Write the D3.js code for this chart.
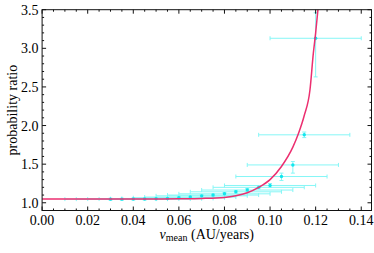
<!DOCTYPE html>
<html>
<head>
<meta charset="utf-8">
<script src="https://cdn.jsdelivr.net/npm/d3@7"></script>
<style>
  body { margin: 0; background: #fff; }
  text { font-family: "Liberation Serif", "DejaVu Serif", serif; }
</style>
</head>
<body>
<svg id="chart" width="374" height="253"></svg>
<script>
// measured points (v_mean, ratio) with errors
var vMean   = [0.030, 0.035, 0.040, 0.045, 0.050, 0.055, 0.060, 0.065, 0.070, 0.075,
               0.080, 0.085, 0.090, 0.095, 0.100, 0.105, 0.110, 0.115, 0.120];
var ratio   = [1.047, 1.047, 1.048, 1.048, 1.052, 1.056, 1.065, 1.074, 1.090, 1.100,
               1.116, 1.142, 1.165, 1.200, 1.224, 1.340, 1.490, 1.880, 3.130];
var vErr    = [0.02, 0.02, 0.02, 0.02, 0.02, 0.02, 0.02, 0.02, 0.02, 0.02,
               0.02, 0.02, 0.02, 0.02, 0.02, 0.02, 0.02, 0.02, 0.02];
var errLow  = [0.012, 0.012, 0.012, 0.012, 0.012, 0.012, 0.014, 0.014, 0.015, 0.015,
               0.016, 0.018, 0.02, 0.02, 0.025, 0.052, 0.106, 0.036, 0.50];
var errHigh = [0.012, 0.012, 0.012, 0.012, 0.012, 0.012, 0.014, 0.014, 0.015, 0.015,
               0.016, 0.018, 0.02, 0.02, 0.025, 0.044, 0.044, 0.036, 0.33];

// fitted curve
var fitX = [0, 0.02, 0.04, 0.06, 0.07, 0.08, 0.085, 0.09, 0.095, 0.10, 0.105,
            0.11, 0.1125, 0.115, 0.1175, 0.119, 0.12, 0.121, 0.1215];
var fitY = [1.048, 1.048, 1.049, 1.052, 1.056, 1.068, 1.09, 1.13, 1.20, 1.30, 1.47,
            1.72, 1.90, 2.13, 2.46, 2.94, 3.20, 3.50, 3.65];

var xTicks = [0, 0.02, 0.04, 0.06, 0.08, 0.10, 0.12, 0.14];
var yTicks = [1.0, 1.5, 2.0, 2.5, 3.0, 3.5];

var svg = d3.select("#chart");
var pL = 42.1, pR = 371.5, pT = 9.7, pB = 210.5;

var x = d3.scaleLinear().domain([0, 0.1445]).range([pL, pR]);
var y = d3.scaleLinear().domain([0.9, 3.5]).range([pB, pT]);

svg.append("clipPath").attr("id", "clip")
  .append("rect")
  .attr("x", pL).attr("y", pT)
  .attr("width", pR - pL).attr("height", pB - pT);

var plot = svg.append("g").attr("clip-path", "url(#clip)");

var pts = vMean.map(function (v, i) {
  return {x: v, y: ratio[i], ex: vErr[i], lo: errLow[i], hi: errHigh[i]};
});

var barColor = "#86f6f6", cap = 2;

// error bars with caps
var bars = plot.append("g").attr("stroke", barColor).attr("stroke-width", 1).attr("fill", "none");
pts.forEach(function (p) {
  var yy = y(p.y), x0 = x(p.x - p.ex), x1 = x(p.x + p.ex);
  bars.append("line").attr("x1", x0).attr("x2", x1).attr("y1", yy).attr("y2", yy);
  bars.append("line").attr("x1", x0).attr("x2", x0).attr("y1", yy - cap).attr("y2", yy + cap);
  bars.append("line").attr("x1", x1).attr("x2", x1).attr("y1", yy - cap).attr("y2", yy + cap);
  var xx = x(p.x), y0 = y(p.y - p.lo), y1 = y(p.y + p.hi);
  bars.append("line").attr("x1", xx).attr("x2", xx).attr("y1", y0).attr("y2", y1);
  bars.append("line").attr("x1", xx - cap).attr("x2", xx + cap).attr("y1", y0).attr("y2", y0);
  bars.append("line").attr("x1", xx - cap).attr("x2", xx + cap).attr("y1", y1).attr("y2", y1);
});

plot.append("g").selectAll("circle")
  .data(pts)
  .enter().append("circle")
  .attr("cx", function (p) { return x(p.x); })
  .attr("cy", function (p) { return y(p.y); })
  .attr("r", 1.7)
  .attr("fill", "#12e6ee");

var line = d3.line()
  .x(function (d, i) { return x(fitX[i]); })
  .y(function (d) { return y(d); })
  .curve(d3.curveMonotoneX);

plot.append("path")
  .attr("d", line(fitY))
  .attr("fill", "none")
  .attr("stroke", "#ec2f70")
  .attr("stroke-width", 1.5);

// frame with inward ticks on all sides
var frame = svg.append("g").attr("stroke", "#111").attr("stroke-width", 1);
frame.append("rect")
  .attr("x", pL).attr("y", pT)
  .attr("width", pR - pL).attr("height", pB - pT)
  .attr("fill", "none");

d3.range(0, 0.1446, 0.005).forEach(function (v) {
  var major = xTicks.some(function (t) { return Math.abs(t - v) < 1e-6; });
  var len = major ? 4 : 2, xx = x(v);
  frame.append("line").attr("x1", xx).attr("x2", xx).attr("y1", pB).attr("y2", pB - len);
  frame.append("line").attr("x1", xx).attr("x2", xx).attr("y1", pT).attr("y2", pT + len);
});

d3.range(0.9, 3.501, 0.1).forEach(function (v) {
  var major = yTicks.some(function (t) { return Math.abs(t - v) < 1e-6; });
  var len = major ? 4 : 2, yy = y(v);
  frame.append("line").attr("x1", pL).attr("x2", pL + len).attr("y1", yy).attr("y2", yy);
  frame.append("line").attr("x1", pR).attr("x2", pR - len).attr("y1", yy).attr("y2", yy);
});

svg.append("g").selectAll("text")
  .data(xTicks)
  .enter().append("text")
  .attr("x", function (d) { return x(d); })
  .attr("y", 224.5)
  .attr("text-anchor", "middle")
  .attr("font-size", 14)
  .text(function (d) { return d3.format(".2f")(d); });

svg.append("g").selectAll("text")
  .data(yTicks)
  .enter().append("text")
  .attr("x", 38.5)
  .attr("y", function (d) { return y(d) + 5; })
  .attr("text-anchor", "end")
  .attr("font-size", 14)
  .text(function (d) { return d3.format(".1f")(d); });

// axis titles
var xt = svg.append("text")
  .attr("x", (pL + pR) / 2)
  .attr("y", 239)
  .attr("text-anchor", "middle")
  .attr("font-size", 14);
xt.append("tspan").attr("font-style", "italic").text("v");
xt.append("tspan").attr("font-size", 10).attr("dy", 2).text("mean");
xt.append("tspan").attr("dy", -2).text(" (AU/years)");

svg.append("text")
  .attr("transform", "translate(17," + ((pT + pB) / 2) + ") rotate(-90)")
  .attr("text-anchor", "middle")
  .attr("font-size", 14)
  .text("probability ratio");
</script>
</body>
</html>
